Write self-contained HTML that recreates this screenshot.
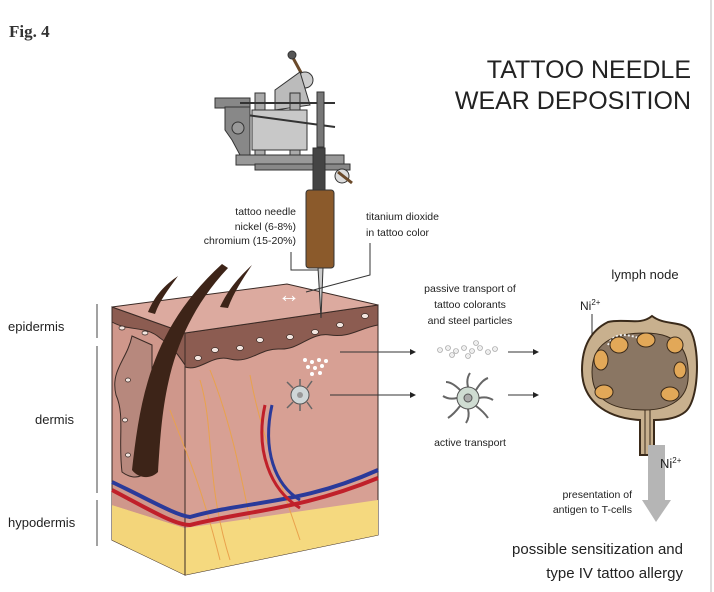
<!DOCTYPE html>
<html><head><meta charset="utf-8"><style>
html,body{margin:0;padding:0;background:#fff}
svg{display:block}
text{font-family:"Liberation Sans",sans-serif;fill:#222}
</style></head><body>
<svg width="714" height="592" viewBox="0 0 714 592" xmlns="http://www.w3.org/2000/svg">
<rect width="714" height="592" fill="#fff"/>
<line x1="711" y1="0" x2="711" y2="592" stroke="#ddd" stroke-width="2"/>
<text x="9" y="37" style="font-family:'Liberation Serif',serif;font-weight:bold;font-size:17px;fill:#333">Fig. 4</text>
<text x="691" y="78" text-anchor="end" font-size="25" fill="#111">TATTOO NEEDLE</text>
<text x="691" y="109" text-anchor="end" font-size="25" fill="#111">WEAR DEPOSITION</text>

<g font-size="13">
<text x="8" y="331">epidermis</text>
<text x="35" y="424">dermis</text>
<text x="8" y="527">hypodermis</text>
</g>
<g stroke="#444" stroke-width="1">
<line x1="97" y1="304" x2="97" y2="338"/><line x1="97" y1="346" x2="97" y2="493"/><line x1="97" y1="500" x2="97" y2="546"/>
</g>

<!-- skin block -->
<polygon points="112,307 185,333 185,575 112,540" fill="#cf978b" stroke="#3a2a25"/>
<polygon points="185,333 378,305 378,535 185,575" fill="#d7a094" stroke="#3a2a25"/>
<polygon points="112,505 185,528 185,575 112,540" fill="#f3d57a"/>
<polygon points="185,528 378,500 378,535 185,575" fill="#f5d97f"/>
<polygon points="112,490 185,514 185,528 112,505" fill="#cf978b"/>
<path d="M112,307 L185,333 L185,365 C175,350 170,345 160,338 C145,325 130,332 112,322 Z" fill="#8c5c51" stroke="#3a2a25"/>
<path d="M185,333 L378,305 L378,325 C360,328 350,338 330,335 C310,332 300,350 280,349 C260,348 250,364 230,359 C212,354 200,372 185,367 Z" fill="#8c5c51" stroke="#3a2a25"/>
<path d="M132,336 C127,360 110,370 116,395 C125,415 118,440 122,472 C135,482 152,478 152,450 L152,345 Z" fill="#b7887d" stroke="#3a2a25"/>
<polygon points="112,307 287,284 378,305 185,333" fill="#dcaa9f" stroke="#3a2a25"/>
<line x1="185" y1="333" x2="185" y2="575" stroke="#3a2a25"/>
<g fill="#f3e6e0" stroke="#3a2a25" stroke-width=".7">
<ellipse cx="198" cy="358" rx="3.5" ry="2.5"/><ellipse cx="215" cy="350" rx="3.5" ry="2.5"/><ellipse cx="240" cy="348" rx="3.5" ry="2.5"/><ellipse cx="260" cy="340" rx="3.5" ry="2.5"/><ellipse cx="290" cy="337" rx="3.5" ry="2.5"/><ellipse cx="315" cy="332" rx="3.5" ry="2.5"/><ellipse cx="340" cy="325" rx="3.5" ry="2.5"/><ellipse cx="365" cy="316" rx="3.5" ry="2.5"/><ellipse cx="122" cy="328" rx="3" ry="2"/><ellipse cx="145" cy="333" rx="3" ry="2"/><ellipse cx="128" cy="380" rx="2.5" ry="2"/><ellipse cx="125" cy="420" rx="2.5" ry="2"/><ellipse cx="128" cy="455" rx="2.5" ry="2"/>
</g>
<!-- hair -->
<path d="M132,470 C140,400 150,330 222,264 L228,268 C165,335 162,410 158,472 C150,480 138,478 132,470 Z" fill="#3d2418"/>
<path d="M148,312 C155,295 165,285 178,276 C168,290 160,300 155,314Z" fill="#3d2418"/>
<path d="M220,307 C228,290 238,278 252,265 C242,280 234,292 228,308Z" fill="#3d2418"/>
<g fill="none" stroke="#e9a24c" stroke-width="1">
<path d="M200,380 C215,430 205,480 230,560"/><path d="M250,375 C260,430 280,480 300,540"/><path d="M170,410 C185,450 200,480 220,560"/><path d="M210,370 C230,420 240,470 250,520"/>
</g>
<path d="M112,490 C150,510 175,525 190,525 C250,510 300,510 378,478" fill="none" stroke="#c0202a" stroke-width="4"/>
<path d="M112,482 C150,500 175,515 190,517 C250,500 300,505 378,470" fill="none" stroke="#2a3a9a" stroke-width="4"/>
<path d="M265,405 C255,450 270,490 300,508" fill="none" stroke="#c0202a" stroke-width="3"/>
<path d="M272,405 C262,450 275,485 300,500" fill="none" stroke="#2a3a9a" stroke-width="3"/>
<g fill="#fff"><circle cx="305" cy="360" r="2"/><circle cx="312" cy="362" r="2"/><circle cx="319" cy="360" r="2"/><circle cx="308" cy="367" r="2"/><circle cx="315" cy="368" r="2"/><circle cx="322" cy="366" r="2"/><circle cx="312" cy="374" r="2"/><circle cx="320" cy="373" r="2"/><circle cx="326" cy="361" r="2"/></g>
<circle cx="300" cy="395" r="9" fill="#cfd7d8" stroke="#555"/>
<circle cx="300" cy="395" r="3" fill="#999"/>
<g stroke="#666" stroke-width="1.5"><line x1="293" y1="388" x2="287" y2="382"/><line x1="307" y1="388" x2="312" y2="381"/><line x1="293" y1="402" x2="287" y2="408"/><line x1="307" y1="402" x2="312" y2="409"/><line x1="300" y1="386" x2="300" y2="379"/><line x1="300" y1="404" x2="300" y2="411"/></g>
<text x="278" y="302" font-size="22" style="fill:#fff">↔</text>

<!-- tattoo machine -->
<g stroke="#333" stroke-width="1">
<line x1="292" y1="56" x2="305" y2="80" stroke="#6b4a2a" stroke-width="3"/>
<circle cx="292" cy="55" r="4" fill="#555"/>
<circle cx="305" cy="80" r="8" fill="#ccc"/>
<polygon points="275,90 300,72 310,105 275,110" fill="#bbb"/>
<rect x="215" y="98" width="35" height="10" fill="#888"/>
<rect x="255" y="93" width="10" height="75" fill="#aaa"/>
<rect x="290" y="93" width="10" height="75" fill="#aaa"/>
<rect x="252" y="110" width="55" height="40" fill="#c8c8c8"/>
<line x1="225" y1="112" x2="335" y2="127" stroke-width="2"/>
<line x1="240" y1="103" x2="335" y2="103" stroke-width="2"/>
<polygon points="225,107 250,107 250,155 240,155 232,140 225,130" fill="#888"/>
<circle cx="238" cy="128" r="6" fill="#999"/>
<rect x="317" y="92" width="7" height="55" fill="#777"/>
<rect x="236" y="155" width="108" height="10" fill="#999"/>
<rect x="255" y="164" width="95" height="6" fill="#888"/>
<rect x="313" y="148" width="12" height="42" fill="#444"/>
<circle cx="342" cy="176" r="7" fill="#ddd"/>
<line x1="338" y1="172" x2="352" y2="183" stroke="#6b4a2a" stroke-width="3"/>
<rect x="306" y="190" width="28" height="78" rx="3" fill="#8b5a2b"/>
<polygon points="318,268 323,268 321,318" fill="#ccc"/>
</g>
<g font-size="10.5">
<text x="296" y="215" text-anchor="end">tattoo needle</text>
<text x="296" y="230" text-anchor="end">nickel (6-8%)</text>
<text x="296" y="244" text-anchor="end">chromium (15-20%)</text>
<text x="366" y="220">titanium dioxide</text>
<text x="366" y="236">in tattoo color</text>
</g>
<g fill="none" stroke="#333" stroke-width="1">
<polyline points="291,252 291,270 318,270"/>
<polyline points="370,243 370,275 306,292"/>
<line x1="340" y1="352" x2="410" y2="352"/><line x1="330" y1="395" x2="410" y2="395"/>
<line x1="508" y1="352" x2="533" y2="352"/><line x1="508" y1="395" x2="533" y2="395"/>
</g>
<g fill="#222">
<polygon points="410,349 416,352 410,355"/><polygon points="410,392 416,395 410,398"/>
<polygon points="533,349 539,352 533,355"/><polygon points="533,392 539,395 533,398"/>
</g>
<g font-size="10.5" text-anchor="middle">
<text x="470" y="292">passive transport of</text>
<text x="470" y="308">tattoo colorants</text>
<text x="470" y="324">and steel particles</text>
<text x="470" y="446">active transport</text>
</g>
<g fill="#eee" stroke="#999" stroke-width=".6">
<circle cx="440" cy="350" r="2.5"/><circle cx="448" cy="348" r="2.5"/><circle cx="456" cy="351" r="2.5"/><circle cx="464" cy="348" r="2.5"/><circle cx="472" cy="351" r="2.5"/><circle cx="480" cy="348" r="2.5"/><circle cx="488" cy="352" r="2.5"/><circle cx="452" cy="355" r="2.5"/><circle cx="468" cy="356" r="2.5"/><circle cx="476" cy="343" r="2.5"/><circle cx="495" cy="349" r="2.5"/>
</g>
<g stroke="#666" stroke-width="2" fill="none">
<path d="M460,390 q-8,-8 -14,-8"/><path d="M476,390 q6,-10 12,-12"/><path d="M460,406 q-6,8 -12,12"/><path d="M476,406 q8,6 12,12"/><path d="M468,387 q-2,-8 2,-14"/><path d="M468,409 q2,8 -2,14"/><path d="M457,398 q-8,2 -14,-2"/><path d="M479,398 q8,-2 14,2"/>
</g>
<circle cx="468" cy="398" r="11" fill="#cfdcd2" stroke="#555"/>
<circle cx="468" cy="398" r="4" fill="#aaa" stroke="#555"/>
<!-- lymph node -->
<text x="645" y="279" text-anchor="middle" font-size="13">lymph node</text>
<text x="580" y="310" font-size="12">Ni<tspan font-size="8" dy="-5">2+</tspan></text>
<line x1="592" y1="314" x2="592" y2="335" stroke="#333"/>
<path d="M640,455 L640,420 C605,418 582,400 582,370 C582,345 592,330 608,322 C625,318 640,326 652,316 C665,326 680,320 690,330 C700,345 700,400 685,412 C675,420 660,420 654,420 L654,455Z" fill="#c8b08e" stroke="#3a2a1a" stroke-width="2"/>
<path d="M592,372 C592,345 610,333 645,333 C680,333 690,352 688,380 C686,402 665,410 645,410 C612,410 592,400 592,372Z" fill="#8a7663" stroke="#3a2a1a"/>
<path d="M645,410 L645,455 M650,410 L650,455" stroke="#3a2a1a"/>
<path d="M608,345 C615,330 630,335 645,340" fill="none" stroke="#eee" stroke-width="2" stroke-dasharray="2 2"/>
<g fill="#e2a858" stroke="#3a2a1a">
<ellipse cx="601" cy="360" rx="7" ry="10"/><ellipse cx="619" cy="345" rx="9" ry="8"/><ellipse cx="646" cy="340" rx="9" ry="7"/><ellipse cx="675" cy="345" rx="8" ry="8"/><ellipse cx="680" cy="370" rx="6" ry="8"/><ellipse cx="670" cy="394" rx="9" ry="7"/><ellipse cx="604" cy="392" rx="9" ry="7"/>
</g>
<rect x="648" y="445" width="17" height="56" fill="#b5b5b5"/>
<polygon points="642,500 671,500 656,522" fill="#b5b5b5"/>
<text x="660" y="468" font-size="13">Ni<tspan font-size="8" dy="-5">2+</tspan></text>
<g font-size="10.5" text-anchor="end">
<text x="632" y="498">presentation of</text>
<text x="632" y="513">antigen to T-cells</text>
</g>
<g font-size="15" text-anchor="end">
<text x="683" y="554">possible sensitization and</text>
<text x="683" y="578">type IV tattoo allergy</text>
</g>
</svg>
</body></html>
